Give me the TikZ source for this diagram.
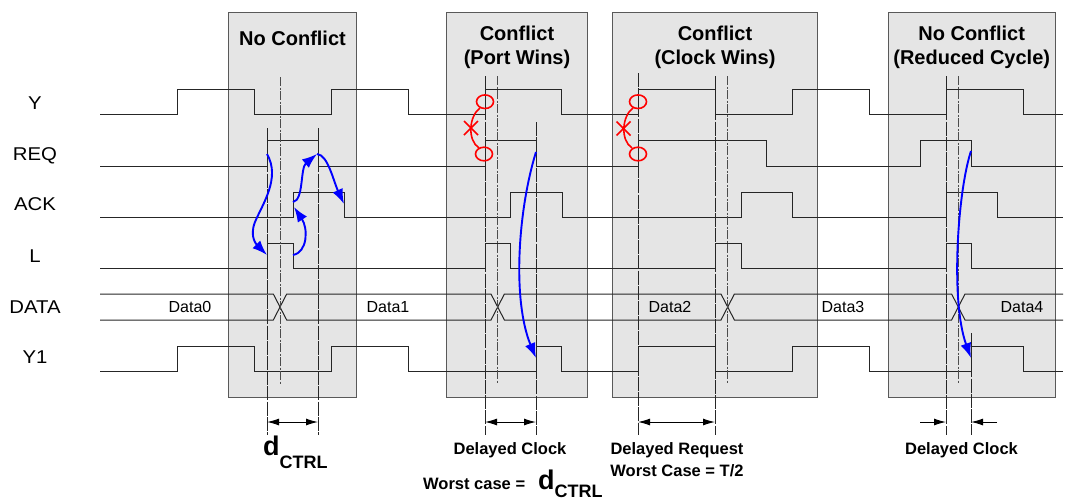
\documentclass[tikz,border=0pt]{standalone}
\usepackage{fontspec}
\setmainfont{Liberation Sans}
\usetikzlibrary{arrows.meta}
\begin{document}
\begin{tikzpicture}[x=1pt,y=-1pt,
  sig/.style={line width=1pt, black!85},
  box/.style={fill=black!10, draw=black!65, line width=1pt},
  clk/.style={line width=0.9pt, black!70, dash pattern=on 9pt off 1.5pt on 2pt off 1.5pt},
  meas/.style={line width=0.9pt, black!85, dash pattern=on 14pt off 1.2pt},
  dim/.style={line width=1pt, black, {Latex[length=12pt,width=7pt]}-{Latex[length=12pt,width=7pt]}},
  dimin/.style={line width=1pt, black, -{Latex[length=12pt,width=7pt]}},
  flow/.style={line width=1.9pt, blue, -{Latex[length=15pt,width=11pt]}},
  redmk/.style={line width=1.6pt, red},
  lbl/.style={font=\fontsize{18.5}{20}\selectfont, anchor=base, inner sep=0pt},
  ttl/.style={font=\bfseries\fontsize{20}{24}\selectfont, anchor=base, inner sep=0pt},
  dat/.style={font=\fontsize{16}{18}\selectfont, inner sep=0pt},
  btm/.style={font=\bfseries\fontsize{16.5}{19}\selectfont, anchor=base, inner sep=0pt}
]
\useasboundingbox (0,0) rectangle (1066,499);

% boxes
\draw[box] (228.5,12.5) rectangle (356.5,397);
\draw[box] (446.5,12.5) rectangle (587.5,397);
\draw[box] (612.5,12.5) rectangle (817.5,397);
\draw[box] (888.5,12.5) rectangle (1055,397);

% titles
\node[ttl] (t1)  at (292.5,45) {No Conflict};
\node[ttl] (t2a) at (517,40) {Conflict};
\node[ttl] (t2b) at (517,64) {(Port Wins)};
\node[ttl] (t3a) at (715,40) {Conflict};
\node[ttl] (t3b) at (715,64) {(Clock Wins)};
\node[ttl] (t4a) at (971.7,40) {No Conflict};
\node[ttl] (t4b) at (971.7,64) {(Reduced Cycle)};

% row labels
\node[lbl] (lY)   at (35,109.5) {\scalebox{1.1}[1]{Y}};
\node[lbl] (lREQ) at (35,160) {\scalebox{1.1}[1]{REQ}};
\node[lbl] (lACK) at (35,210.7) {\scalebox{1.1}[1]{ACK}};
\node[lbl] (lL)   at (35,262.7) {\scalebox{1.1}[1]{L}};
\node[lbl] (lD)   at (35,313.3) {\scalebox{1.1}[1]{DATA}};
\node[lbl] (lY1)  at (35,363.3) {\scalebox{1.1}[1]{Y1}};

% signals
\draw[sig] (100,114) -| (177,89) -| (254,114) -| (331,89) -| (408,114) -| (485,89) -| (561,114) -| (638,89) -| (715,114) -| (792,89) -| (869,114) -| (946,89) -| (1023,114) -- (1063,114);
\draw[sig] (100,166) -| (267,140.5) -| (318,166) -| (485,140.5) -| (536,166) -| (638,140.5) -| (766,166) -| (920,140.5) -| (971,166) -- (1063,166);
\draw[sig] (100,217) -| (293,192) -| (344,217) -| (510,192) -| (562,217) -| (741,192) -| (792,217) -| (946,192) -| (997,217) -- (1063,217);
\draw[sig] (100,268) -| (267,243) -| (293,268) -| (485,243) -| (510,268) -| (715,243) -| (741,268) -| (946,243) -| (971,268) -- (1063,268);
\draw[sig] (100,294) -- (273.3,294) -- (286.7,320) -- (491,320) -- (504.4,294) -- (721,294) -- (734.4,320) -- (951.6,320) -- (965,294) -- (1063,294);
\draw[sig] (100,320) -- (273.3,320) -- (286.7,294) -- (491,294) -- (504.4,320) -- (721,320) -- (734.4,294) -- (951.6,294) -- (965,320) -- (1063,320);
\draw[sig] (100,371) -| (177,346) -| (254,371) -| (331,346) -| (408,371) -| (536,346) -| (561,371) -| (638,346) -| (715,371) -| (792,346) -| (869,371) -| (971,346) -| (1023,371) -- (1063,371);

% data labels
\node[dat] (d0) at (190,307) {Data0};
\node[dat] (d1) at (388,307) {Data1};
\node[dat] (d2) at (670,307) {Data2};
\node[dat] (d3) at (843,307) {Data3};
\node[dat] (d4) at (1022,307) {Data4};

% vertical reference lines
\draw[clk] (280,77) -- (280,384);
\draw[clk] (497.7,76) -- (497.7,384);
\draw[clk] (727.7,76) -- (727.7,384);
\draw[clk] (958.3,76) -- (958.3,384);
\draw[meas] (267,128) -- (267,435);
\draw[meas] (318,128) -- (318,435);
\draw[meas] (485,76) -- (485,435);
\draw[meas] (536,122) -- (536,435);
\draw[meas] (638,73) -- (638,435);
\draw[meas] (715,76) -- (715,435);
\draw[meas] (946,76) -- (946,435);
\draw[meas] (971,333) -- (971,435);

% dimension arrows
\coordinate (m1a) at (267,422); \coordinate (m1b) at (318,422);
\coordinate (m2a) at (485,422); \coordinate (m2b) at (536,422);
\coordinate (m3a) at (638,422); \coordinate (m3b) at (715,422);
\coordinate (m4l) at (920,422); \coordinate (m4a) at (946,422);
\coordinate (m4b) at (971,422); \coordinate (m4r) at (997,422);
\draw[dim] (m1a) -- (m1b);
\draw[dim] (m2a) -- (m2b);
\draw[dim] (m3a) -- (m3b);
\draw[dimin] (m4l) -- (m4a);
\draw[dimin] (m4r) -- (m4b);

% bottom labels
\node[anchor=base west, inner sep=0pt, font=\bfseries] (dc1) at (263,455)
  {{\fontsize{27}{28}\selectfont d}\raisebox{-13pt}{\fontsize{18}{19}\selectfont CTRL}};
\node[btm] (b2) at (510,454) {Delayed Clock};
\node[btm, anchor=base west] (wc) at (423,489) {Worst case =};
\node[anchor=base west, inner sep=0pt, font=\bfseries] (dc2) at (538,489)
  {{\fontsize{27}{28}\selectfont d}\raisebox{-8pt}{\fontsize{18}{19}\selectfont CTRL}};
\node[btm] (b3a) at (677,454) {Delayed Request};
\node[btm] (b3b) at (677,476.7) {Worst Case = T/2};
\node[btm] (b4) at (961.5,454) {Delayed Clock};

% red conflict marks
\draw[redmk] (485,101.7) ellipse (8.5 and 6.8);
\draw[redmk] (484,154) ellipse (8.5 and 6.8);
\draw[redmk] (480,108) .. controls (469,116) and (467,140) .. (479,148);
\draw[redmk] (464,121) -- (478,135) (464,135) -- (478,121);
\draw[redmk] (638,101.7) ellipse (8.5 and 6.8);
\draw[redmk] (638,154) ellipse (8.5 and 6.8);
\draw[redmk] (633,108) .. controls (622,116) and (620,140) .. (632,148);
\draw[redmk] (616.5,121.5) -- (630.5,135.5) (616.5,135.5) -- (630.5,121.5);

% blue causality arrows
\coordinate (reqR1) at (267,154);
\coordinate (lR1)   at (267,255);
\coordinate (lF1)   at (293,255);
\coordinate (ackR1) at (294,207);
\coordinate (ackS1) at (293,202);
\coordinate (reqF1) at (317,154);
\coordinate (ackF1) at (344,204);
\draw[flow] (reqR1) .. controls (281,178) and (262,205) .. (255,222) .. controls (249,237) and (257,245) .. (lR1);
\draw[flow] (lF1) .. controls (308,252) and (308,228) .. (ackR1);
\draw[flow] (ackS1) .. controls (304,200) and (300,168) .. (reqF1);
\draw[flow] (reqF1) .. controls (328,155) and (333,180) .. (ackF1);
\coordinate (reqF2) at (536,152);
\coordinate (y1R2)  at (536,358);
\draw[flow] (reqF2) .. controls (518,210) and (512,300) .. (y1R2);
\coordinate (reqF4) at (971,151);
\coordinate (y1R4)  at (971,358);
\draw[flow] (reqF4) .. controls (958,190) and (950,300) .. (y1R4);
\end{tikzpicture}
\end{document}
